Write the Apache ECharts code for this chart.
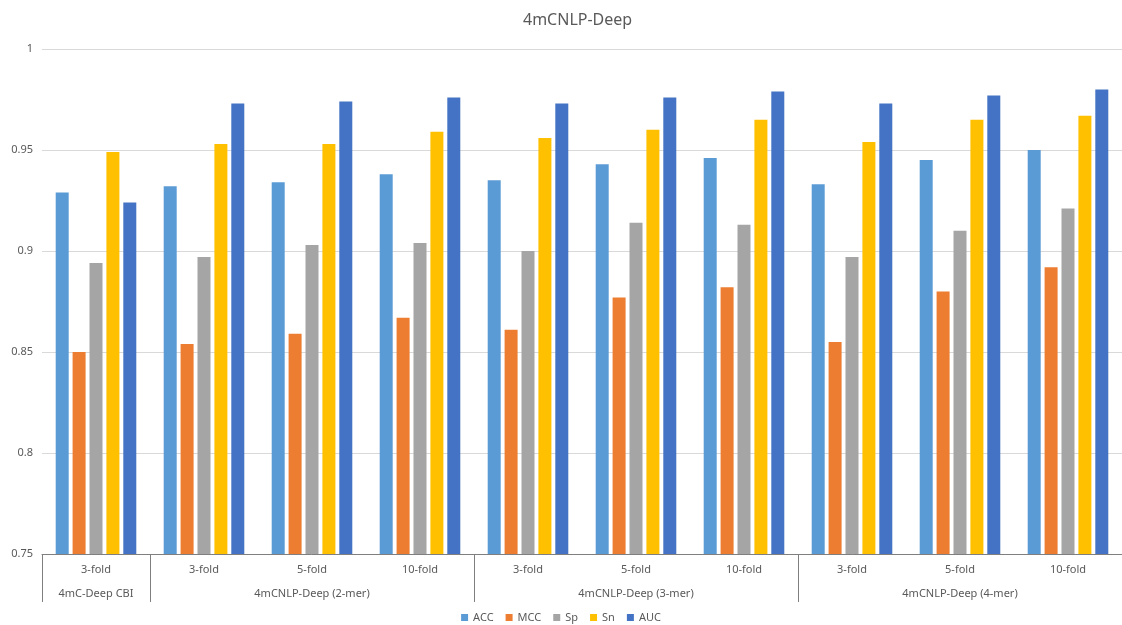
<!DOCTYPE html>
<html><head><meta charset="utf-8">
<script src="https://cdn.jsdelivr.net/npm/echarts@6/dist/echarts.min.js"></script>
<style>html,body{margin:0;padding:0;background:#fff}#c{width:1122px;height:625px}</style>
</head><body><div id="c"></div>
<script>
const folds = ["3-fold","3-fold","5-fold","10-fold","3-fold","5-fold","10-fold","3-fold","5-fold","10-fold"];
const groups = ["4mC-Deep CBI","4mCNLP-Deep (2-mer)","4mCNLP-Deep (2-mer)","4mCNLP-Deep (2-mer)","4mCNLP-Deep (3-mer)","4mCNLP-Deep (3-mer)","4mCNLP-Deep (3-mer)","4mCNLP-Deep (4-mer)","4mCNLP-Deep (4-mer)","4mCNLP-Deep (4-mer)"];
const groupStarts = [0,1,4,7];
const groupLabelAt = [0,2,5,8];
const seriesNames = ["ACC","MCC","Sp","Sn","AUC"];
const ACC = [0.929,0.932,0.934,0.938,0.935,0.943,0.946,0.933,0.945,0.950];
const MCC = [0.850,0.854,0.859,0.867,0.861,0.877,0.882,0.855,0.880,0.892];
const Sp  = [0.894,0.897,0.903,0.904,0.900,0.914,0.913,0.897,0.910,0.921];
const Sn  = [0.949,0.953,0.953,0.959,0.956,0.960,0.965,0.954,0.965,0.967];
const AUC = [0.924,0.973,0.974,0.976,0.973,0.976,0.979,0.973,0.977,0.980];
const colors = ["#5B9BD5","#ED7D31","#A5A5A5","#FFC000","#4472C4"];
const yMin = 0.75, yMax = 1, yStep = 0.05;

const values = [ACC, MCC, Sp, Sn, AUC];
const font = "Noto Sans";
const txt = "#595959";
const chart = echarts.init(document.getElementById('c'));
chart.setOption({
  animation: false,
  color: colors,
  textStyle: {fontFamily: font},
  title: {text: "4mCNLP-Deep", left: 518, top: 7,
    textStyle: {fontFamily: font, fontSize: 16, fontWeight: 'normal', color: txt}},
  legend: {data: seriesNames, left: 'center', top: 607, itemWidth: 7, itemHeight: 7, itemGap: 12,
    icon: 'rect', textStyle: {fontSize: 11, color: txt}},
  grid: {left: 42, width: 1092, top: 49, height: 505, containLabel: false},
  xAxis: [
    {type: 'category', data: folds, position: 'bottom',
      axisLine: {lineStyle: {color: '#7f7f7f', width: 1}},
      axisTick: {show: true, length: 48, interval: (i) => groupStarts.includes(i), lineStyle: {color: '#7f7f7f'}},
      axisLabel: {color: txt, fontSize: 11, margin: 10, interval: 0}},
    {type: 'category', data: groups, position: 'bottom',
      axisLine: {show: false}, axisTick: {show: false},
      axisLabel: {color: txt, fontSize: 11, margin: 34, interval: (i) => groupLabelAt.includes(i)}}
  ],
  yAxis: {type: 'value', min: yMin, max: yMax, interval: yStep,
    axisLine: {show: false}, axisTick: {show: false},
    axisLabel: {color: txt, fontSize: 11, margin: 9},
    splitLine: {lineStyle: {color: '#d9d9d9'}}},
  series: seriesNames.map((n, k) => ({
    name: n, type: 'bar', xAxisIndex: 0, data: values[k],
    barWidth: 13, barGap: '30%', itemStyle: {color: colors[k]}
  }))
});
</script></body></html>
